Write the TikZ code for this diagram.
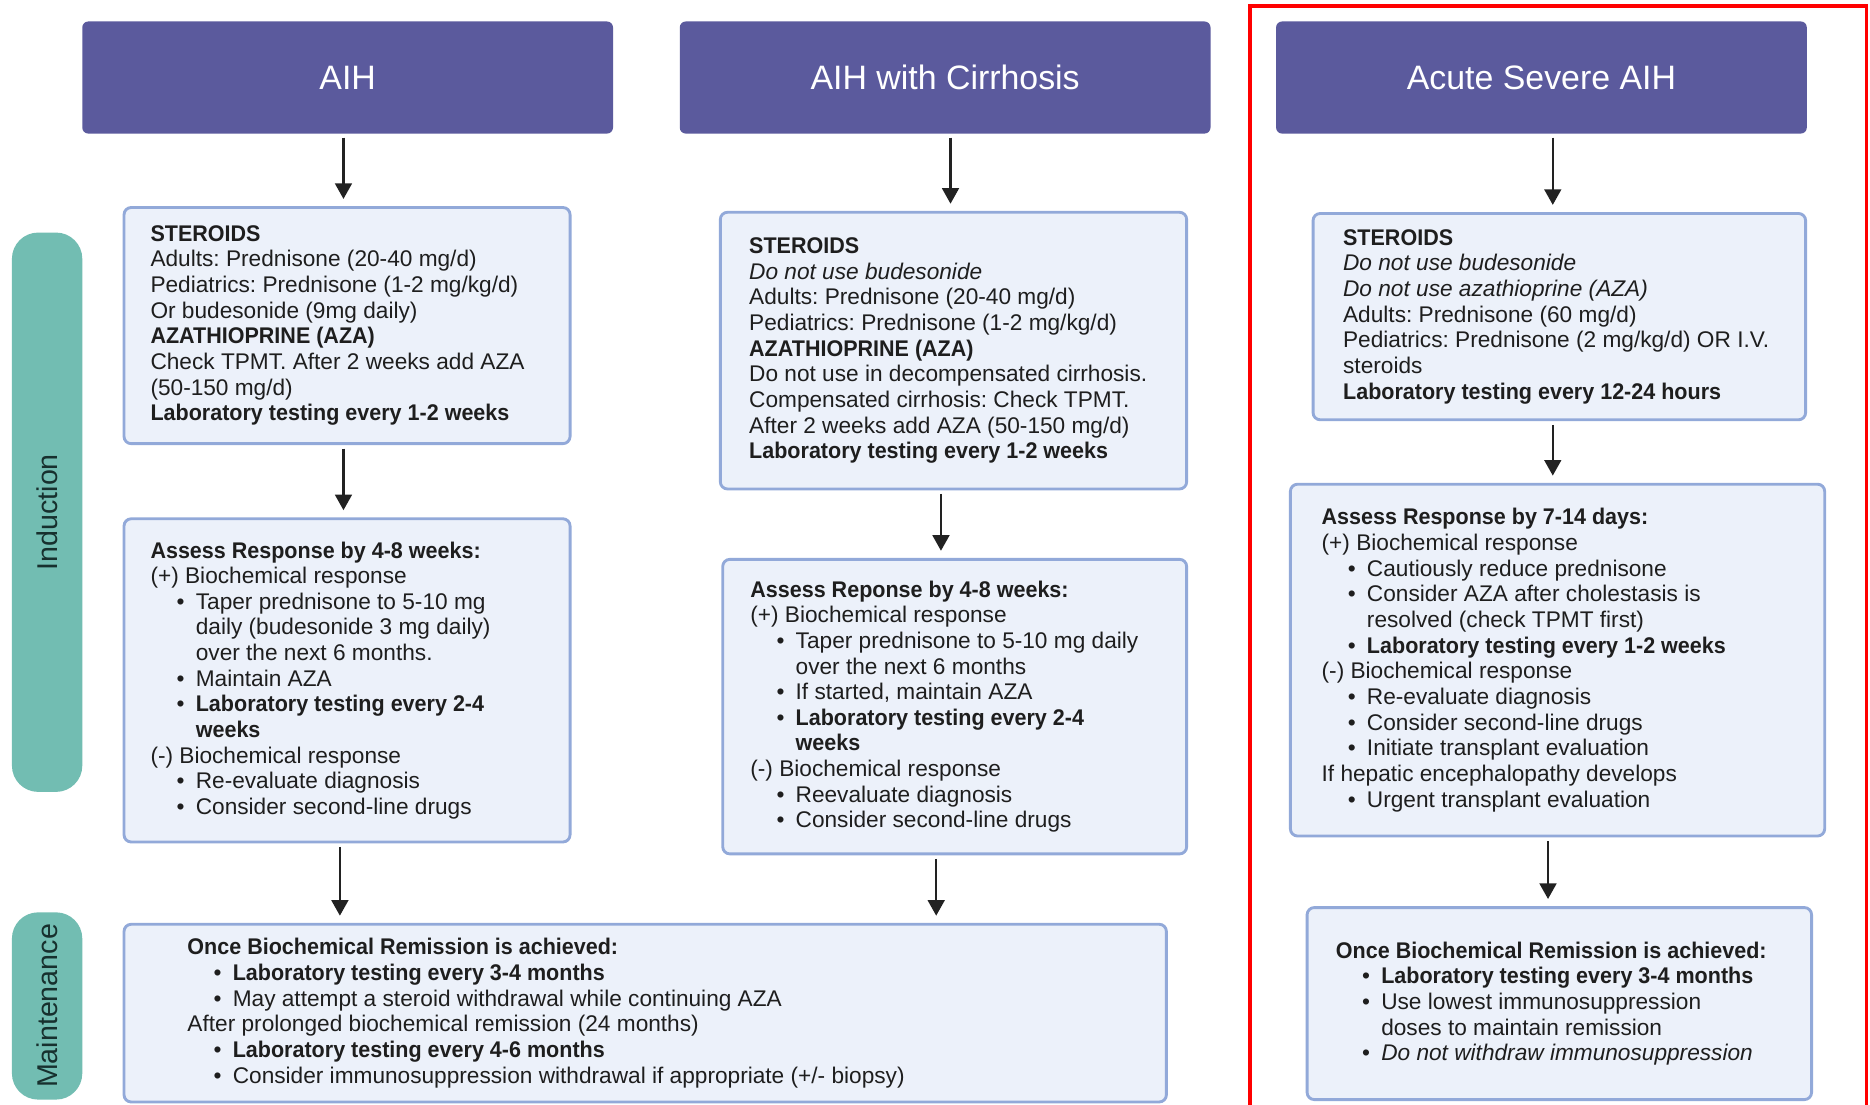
\documentclass[tikz,border=0pt]{standalone}
\usepackage{fontspec}
\setmainfont{Liberation Sans}[BoldFeatures={FakeStretch=0.95}]
\usetikzlibrary{arrows.meta}
\frenchspacing
\definecolor{hdrc}{HTML}{5B5A9D}
\definecolor{boxf}{HTML}{ECF1FA}
\definecolor{boxb}{HTML}{92A9D9}
\definecolor{tealc}{HTML}{72BDB2}
\definecolor{txtc}{HTML}{1E1E1E}
\definecolor{arrc}{HTML}{222222}
\definecolor{sidetxt}{HTML}{17302E}
% bullet line and continuation line of a bullet
\newcommand\bu{\hspace*{11pt}\makebox[8pt][l]{\textbullet}}
\newcommand\bc{\hspace*{19pt}}
\tikzset{
  hdr/.style={fill=hdrc, rounded corners=2.5pt, minimum width=222.5pt,
    minimum height=47pt, text=white, inner sep=0,
    font=\fontsize{14.2}{16}\selectfont},
  box/.style={draw=boxb, line width=1.2pt, fill=boxf, rounded corners=3pt, inner sep=0},
  txt/.style={anchor=west, align=left, inner sep=0, text=txtc,
    font=\fontsize{9.5}{10.75}\selectfont},
  arr/.style={draw=arrc, line width=1pt, shorten <=1.5pt, shorten >=3pt,
    -{Triangle[width=7pt,length=6.5pt]}},
  side/.style={fill=tealc, rounded corners=11pt, minimum width=29.5pt, inner sep=0},
  sidelabel/.style={rotate=90, text=sidetxt, font=\fontsize{12}{14}\selectfont},
}
\begin{document}
\begin{tikzpicture}[x=0.5pt, y=-0.5pt]
\useasboundingbox (0,0) rectangle (1568,926);
\clip (0,0) rectangle (1568,926);
\fill[white] (0,0) rectangle (1568,926);

% column headers
\node[hdr] (h1) at (291.5,65) {AIH};
\node[hdr] (h2) at (792.5,65) {AIH with Cirrhosis};
\node[hdr] (h3) at (1292.5,65) {Acute Severe AIH};

% phase labels
\node[side, minimum height=234.5pt] (ind) at (39.5,429.5) {};
\node[sidelabel] (ind-t) at (ind.center) {Induction};
\node[side, minimum height=78.5pt] (mnt) at (39.5,843.5) {};
\node[sidelabel] (mnt-t) at (mnt.center) {Maintenance};

% column 1: AIH
\node[box, minimum width=187pt, minimum height=99pt] (b1a) at (291,273) {};
\node[txt] (b1a-t) at ([xshift=11.5pt]b1a.west) {%
\textbf{STEROIDS}\\
Adults: Prednisone (20-40 mg/d)\\
Pediatrics: Prednisone (1-2 mg/kg/d)\\
Or budesonide (9mg daily)\\
\textbf{AZATHIOPRINE (AZA)}\\
Check TPMT. After 2 weeks add AZA\\
(50-150 mg/d)\\
\textbf{Laboratory testing every 1-2 weeks}};

\node[box, minimum width=187pt, minimum height=135.5pt] (b1b) at (291,570.5) {};
\node[txt] (b1b-t) at ([xshift=11.5pt]b1b.west) {%
\textbf{Assess Response by 4-8 weeks:}\\
(+) Biochemical response\\
\bu Taper prednisone to 5-10 mg\\
\bc daily (budesonide 3 mg daily)\\
\bc over the next 6 months.\\
\bu Maintain AZA\\
\bu\textbf{Laboratory testing every 2-4}\\
\bc\textbf{weeks}\\
(-) Biochemical response\\
\bu Re-evaluate diagnosis\\
\bu Consider second-line drugs};

% column 2: AIH with cirrhosis
\node[box, minimum width=195.5pt, minimum height=116pt] (b2a) at (799.5,294) {};
\node[txt] (b2a-t) at ([xshift=12.5pt]b2a.west) {%
\textbf{STEROIDS}\\
\textit{Do not use budesonide}\\
Adults: Prednisone (20-40 mg/d)\\
Pediatrics: Prednisone (1-2 mg/kg/d)\\
\textbf{AZATHIOPRINE (AZA)}\\
Do not use in decompensated cirrhosis.\\
Compensated cirrhosis: Check TPMT.\\
After 2 weeks add AZA (50-150 mg/d)\\
\textbf{Laboratory testing every 1-2 weeks}};

\node[box, minimum width=194.5pt, minimum height=123.5pt] (b2b) at (800.5,592.5) {};
\node[txt] (b2b-t) at ([xshift=12pt]b2b.west) {%
\textbf{Assess Reponse by 4-8 weeks:}\\
(+) Biochemical response\\
\bu Taper prednisone to 5-10 mg daily\\
\bc over the next 6 months\\
\bu If started, maintain AZA\\
\bu\textbf{Laboratory testing every 2-4}\\
\bc\textbf{weeks}\\
(-) Biochemical response\\
\bu Reevaluate diagnosis\\
\bu Consider second-line drugs};

% shared maintenance box
\node[box, minimum width=437pt, minimum height=74.5pt] (m1) at (541,849.5) {};
\node[txt] (m1-t) at ([xshift=27pt]m1.west) {%
\textbf{Once Biochemical Remission is achieved:}\\
\bu\textbf{Laboratory testing every 3-4 months}\\
\bu May attempt a steroid withdrawal while continuing AZA\\
After prolonged biochemical remission (24 months)\\
\bu\textbf{Laboratory testing every 4-6 months}\\
\bu Consider immunosuppression withdrawal if appropriate (+/- biopsy)};

% column 3: acute severe AIH
\node[box, minimum width=206.5pt, minimum height=86.5pt] (b3a) at (1307.5,265.5) {};
\node[txt] (b3a-t) at ([xshift=13pt]b3a.west) {%
\textbf{STEROIDS}\\
\textit{Do not use budesonide}\\
\textit{Do not use azathioprine (AZA)}\\
Adults: Prednisone (60 mg/d)\\
Pediatrics: Prednisone (2 mg/kg/d) OR I.V.\\
steroids\\
\textbf{Laboratory testing every 12-24 hours}};

\node[box, minimum width=224pt, minimum height=147.5pt] (b3b) at (1306,553.5) {};
\node[txt] (b3b-t) at ([xshift=13.5pt]b3b.west) {%
\textbf{Assess Response by 7-14 days:}\\
(+) Biochemical response\\
\bu Cautiously reduce prednisone\\
\bu Consider AZA after cholestasis is\\
\bc resolved (check TPMT first)\\
\bu\textbf{Laboratory testing every 1-2 weeks}\\
(-) Biochemical response\\
\bu Re-evaluate diagnosis\\
\bu Consider second-line drugs\\
\bu Initiate transplant evaluation\\
If hepatic encephalopathy develops\\
\bu Urgent transplant evaluation};

\node[box, minimum width=211.5pt, minimum height=80.5pt] (b3c) at (1307.5,841.5) {};
\node[txt] (b3c-t) at ([xshift=12.5pt]b3c.west) {%
\textbf{Once Biochemical Remission is achieved:}\\
\bu\textbf{Laboratory testing every 3-4 months}\\
\bu Use lowest immunosuppression\\
\bc doses to maintain remission\\
\bu\textit{Do not withdraw immunosuppression}};

% arrow columns
\coordinate (x11) at (288,0);
\coordinate (x12) at (285,0);
\coordinate (x21) at (797,0);
\coordinate (x22) at (789,0);
\coordinate (x23) at (785,0);
\coordinate (x31) at (1302,0);
\coordinate (x32) at (1298,0);

\draw[arr] (h1.south -| x11) -- (b1a.north -| x11);
\draw[arr] (b1a.south -| x11) -- (b1b.north -| x11);
\draw[arr] (b1b.south -| x12) -- (m1.north -| x12);
\draw[arr] (h2.south -| x21) -- (b2a.north -| x21);
\draw[arr] (b2a.south -| x22) -- (b2b.north -| x22);
\draw[arr] (b2b.south -| x23) -- (m1.north -| x23);
\draw[arr] (h3.south -| x31) -- (b3a.north -| x31);
\draw[arr] (b3a.south -| x31) -- (b3b.north -| x31);
\draw[arr] (b3b.south -| x32) -- (b3c.north -| x32);

% highlight frame around the acute severe column
\draw[red, line width=1.6pt] (1048,960) -- (1048,5) -- (1565,5) -- (1565,960);
\end{tikzpicture}
\end{document}
